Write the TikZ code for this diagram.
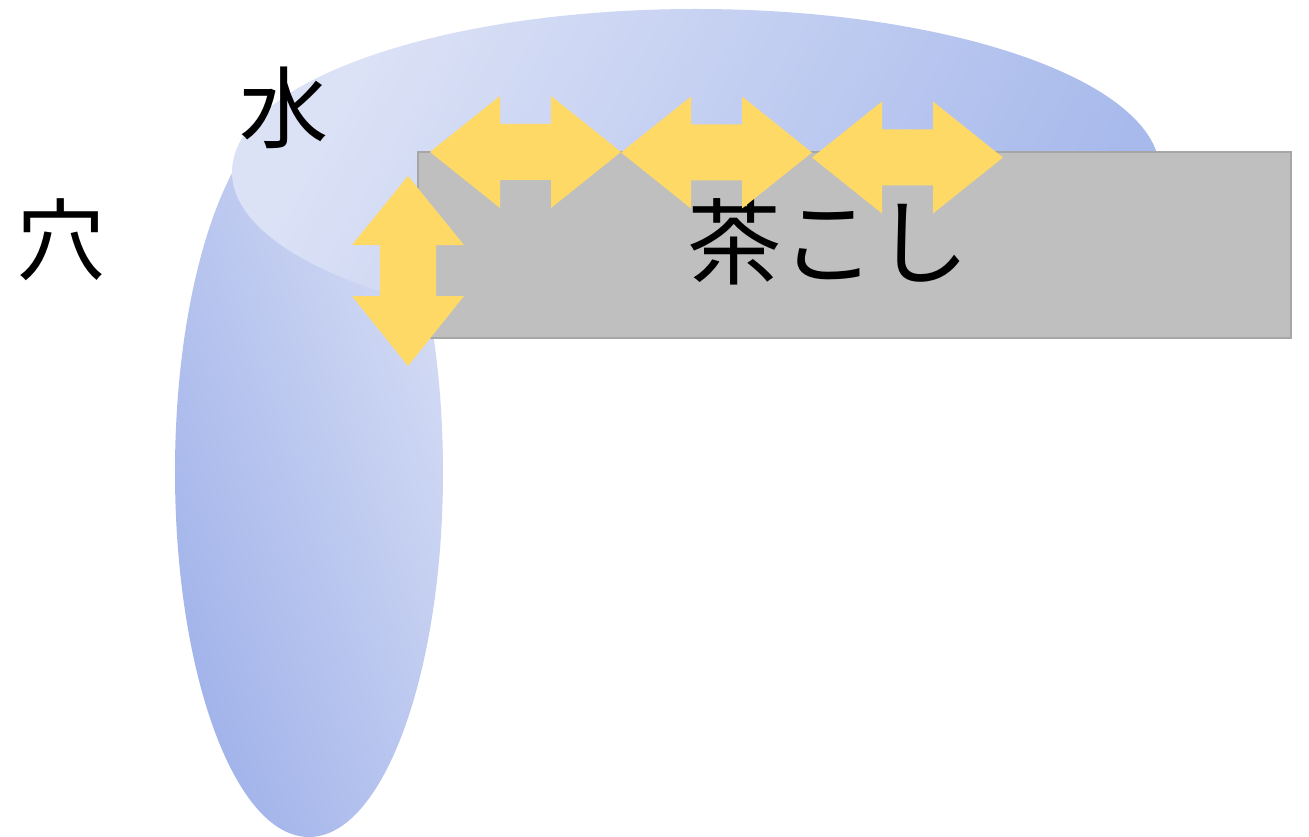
\documentclass[tikz,border=0pt]{standalone}
\usepackage{fontspec}
\newfontfamily\cjk{Noto Sans CJK JP}
\definecolor{arrowyellow}{HTML}{FFD966}
\definecolor{hlight}{HTML}{DCE2F6}
\definecolor{hdark}{HTML}{A8BAEC}
\definecolor{vlight}{HTML}{D6DDF4}
\definecolor{vdark}{HTML}{A0B2EA}
\definecolor{boxfill}{HTML}{BFBFBF}
\definecolor{boxline}{HTML}{A6A6A6}
% horizontal double arrow: #1 left tip, #2 left base, #3 right base, #4 right tip, #5 y centre
\newcommand{\hdblarrow}[5]{%
  \fill[yarrow] (#1,#5) -- (#2,#5-56) -- (#2,#5-28) -- (#3,#5-28) -- (#3,#5-56)
    -- (#4,#5) -- (#3,#5+56) -- (#3,#5+28) -- (#2,#5+28) -- (#2,#5+56) -- cycle;}
\begin{document}
\begin{tikzpicture}[x=1pt,y=-1pt,
  yarrow/.style={fill=arrowyellow},
  label/.style={font=\cjk\fontsize{89}{89}\selectfont, inner sep=0pt},
  strainer/.style={fill=boxfill, draw=boxline, line width=2pt}]
\useasboundingbox (0,0) rectangle (1309,837);
% water: vertical part (hole)
\shade[top color=vdark, bottom color=vlight, shading angle=110]
  (309,472) ellipse [x radius=134pt, y radius=365pt];
% water: horizontal part
\shade[left color=hlight, right color=hdark, shading angle=60]
  (696,172) ellipse [x radius=464pt, y radius=163pt];
% tea strainer
\node[strainer, minimum width=873pt, minimum height=186pt, anchor=north west] (box) at (417,151) {};
\node[label, font=\cjk\fontsize{94}{94}\selectfont] (cha) at (828,242) {茶こし};
% arrows
\hdblarrow{430}{500}{551}{621}{152}
\hdblarrow{621}{691}{742}{812}{152.5}
\hdblarrow{812}{882}{933}{1003}{157.5}
\fill[yarrow] (408,176) -- (464,245) -- (436,245) -- (436,296) -- (464,296)
  -- (408,366) -- (352,296) -- (380,296) -- (380,245) -- (352,245) -- cycle;
% labels
\node[label] (mizu) at (284,108) {水};
\node[label] (ana) at (61,240) {穴};
\end{tikzpicture}
\end{document}
